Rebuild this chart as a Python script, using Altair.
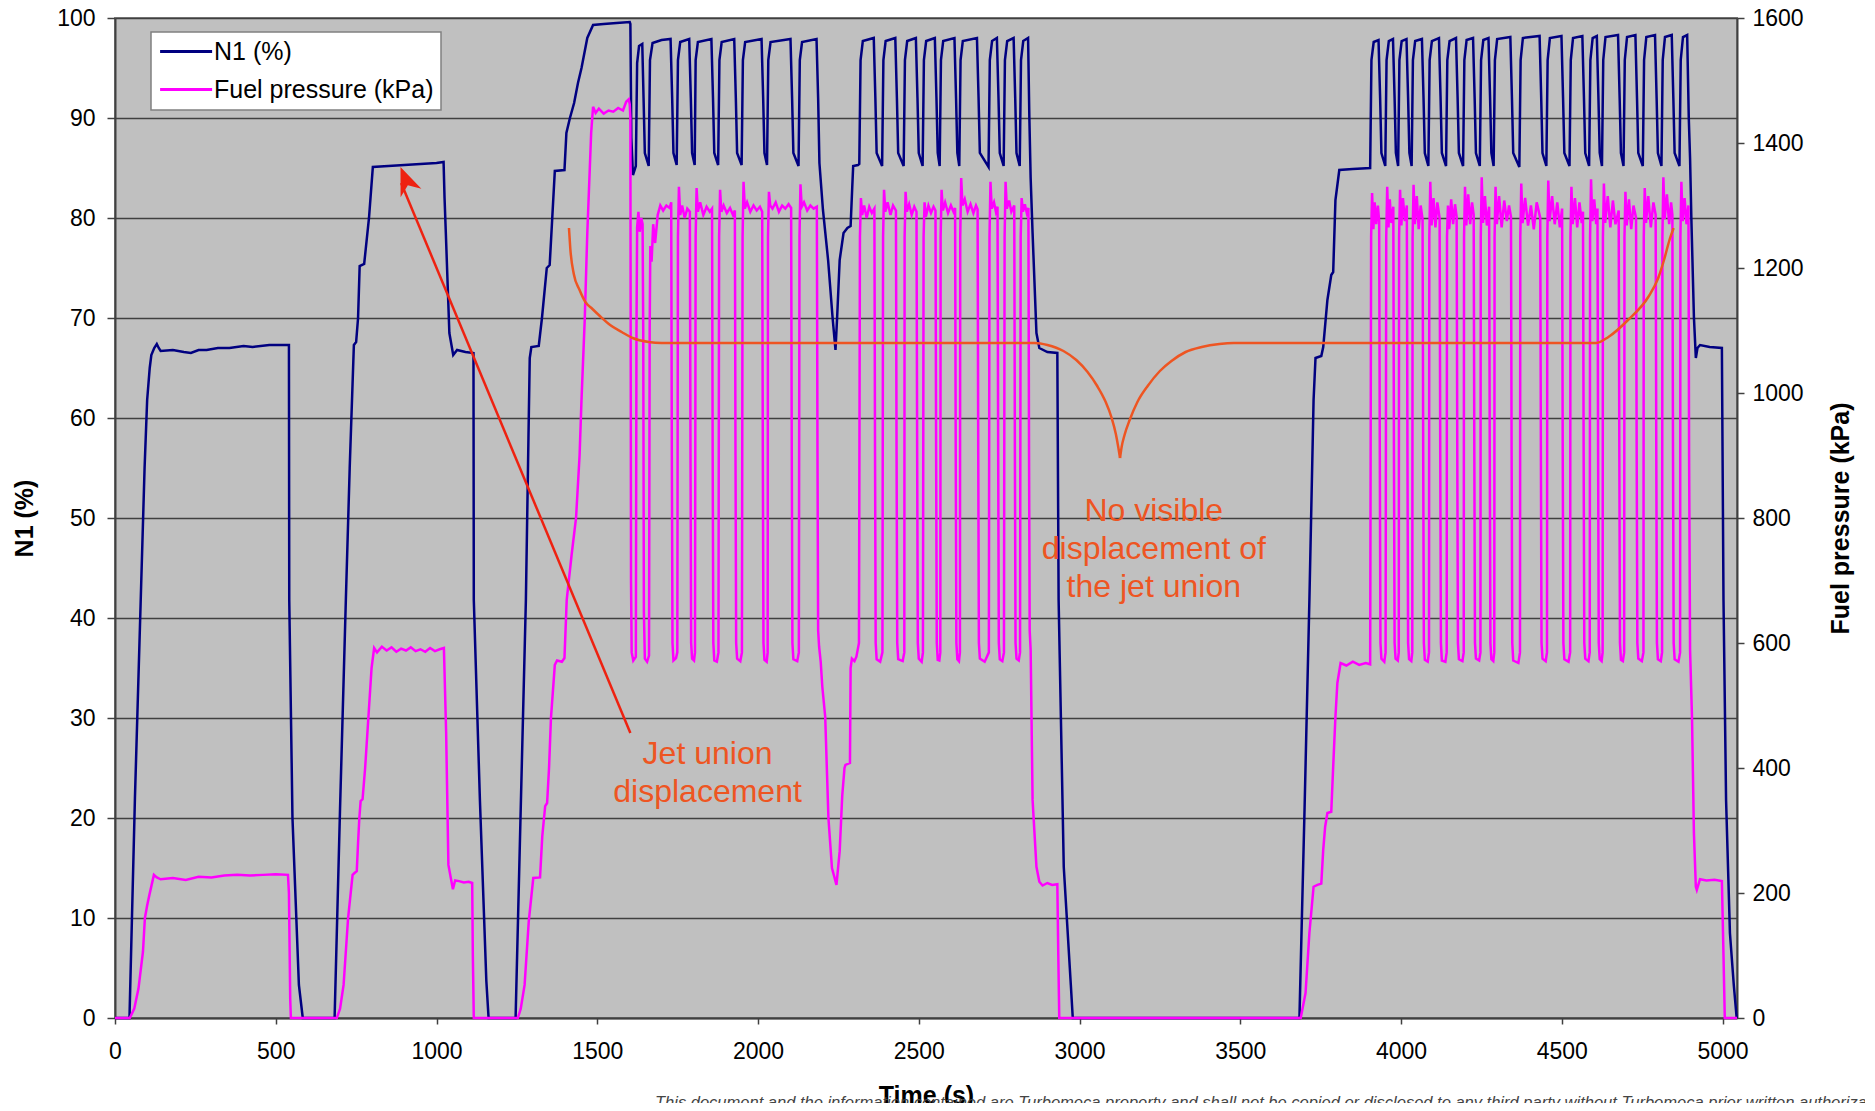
import altair as alt
import pandas as pd

FONT = "Liberation Sans"

# ---------------- N1 (%) series : (time s, N1 %) ----------------
n1_block1 = [(0, 0), (45, 0), (62, 22), (80, 41.8), (92, 55), (100, 61.8), (108, 65), (113, 66.3), (122, 67),
             (130, 67.4), (136, 67), (142, 66.7), (180, 66.8), (214, 66.6), (236, 66.5), (260, 66.8), (285, 66.8),
             (320, 67.0), (356, 67.0), (400, 67.2), (428, 67.1), (480, 67.3), (520, 67.3), (541, 67.3),
             (542, 41.8), (552, 20), (572, 3.3), (584, 0)]
n1_block2 = [(683, 0), (700, 21), (718, 41.8), (730, 55), (743, 67.3), (750, 67.6), (756, 70), (761, 75.2),
             (775, 75.4), (790, 80), (802, 85.1), (850, 85.2), (900, 85.3), (950, 85.4), (1000, 85.5),
             (1022, 85.6), (1025, 82), (1029, 78.5), (1040, 68.5), (1052, 66.3), (1064, 66.8), (1090, 66.6),
             (1115, 66.5), (1116, 41.8), (1135, 21.8), (1155, 3.7), (1162, 0)]
n1_block3 = [(1246, 0), (1262, 21), (1278, 41.8), (1286, 58), (1290, 66), (1295, 67.1), (1318, 67.2), (1328, 70),
             (1343, 75), (1352, 75.3), (1360, 80), (1368, 84.7), (1398, 84.8), (1404, 88.5), (1415, 90),
             (1428, 91.5), (1440, 93.5), (1451, 95), (1469, 98), (1487, 99.3), (1520, 99.4), (1560, 99.5),
             (1601, 99.6)]
n1_cycles1 = [(1603, 99.4), (1606, 88), (1611, 84.3), (1620, 85.2), (1624, 95.5), (1630, 97.2), (1640, 97.4),
              (1644, 92), (1648, 86.5), (1660, 85.2), (1664, 95.8), (1672, 97.5), (1700, 97.8), (1728, 97.9),
              (1733, 92), (1737, 86.5), (1747, 85.3), (1751, 95.8), (1758, 97.6), (1786, 97.9), (1791, 92),
              (1795, 86.5), (1803, 85.3), (1806, 95.8), (1813, 97.6), (1855, 97.9), (1860, 92), (1864, 86.5),
              (1876, 85.3), (1880, 95.8), (1887, 97.6), (1926, 97.9), (1931, 92), (1935, 86.5), (1949, 85.3),
              (1953, 95.8), (1960, 97.6), (2011, 97.9), (2016, 92), (2020, 86.5), (2028, 85.3), (2032, 95.8),
              (2039, 97.6), (2101, 97.9), (2106, 92), (2110, 86.5), (2126, 85.2), (2130, 95.8), (2137, 97.6),
              (2182, 97.9), (2187, 92), (2191, 85.5), (2202, 80.8), (2218, 75.8), (2232, 70), (2241, 66.8),
              (2246, 70), (2254, 75.8), (2266, 78.5), (2278, 79), (2288, 79.2), (2293, 83), (2296, 85.2),
              (2311, 85.3)]
n1_cycles2 = [(2315, 85.4), (2319, 95.8), (2326, 97.7), (2360, 98.0), (2365, 92), (2369, 86.5), (2386, 85.2),
              (2390, 95.8), (2397, 97.7), (2427, 98.0), (2432, 92), (2436, 86.5), (2453, 85.2), (2457, 95.8),
              (2464, 97.7), (2491, 98.0), (2496, 92), (2500, 86.5), (2512, 85.2), (2516, 95.8), (2523, 97.7),
              (2550, 98.0), (2555, 92), (2559, 86.5), (2565, 85.2), (2569, 95.8), (2576, 97.7), (2611, 98.0),
              (2616, 92), (2620, 86.5), (2626, 85.2), (2630, 95.8), (2637, 97.7), (2681, 98.0), (2686, 92),
              (2690, 86.5), (2717, 85.1), (2721, 95.8), (2728, 97.7), (2743, 98.0), (2748, 92), (2752, 86.5),
              (2764, 85.2), (2768, 95.8), (2775, 97.7), (2795, 98.0), (2800, 92), (2804, 86.5), (2814, 85.2),
              (2818, 95.8), (2825, 97.7), (2840, 98.0), (2844, 90), (2848, 84), (2854, 78.5), (2866, 68.5),
              (2875, 67), (2900, 66.6), (2931, 66.5), (2935, 41.8), (2951, 15.1), (2973, 3.3), (2979, 0)]
n1_block4 = [(3684, 0), (3700, 21), (3715, 41.8), (3728, 61.8), (3734, 66), (3752, 66.2), (3758, 67.1),
             (3771, 71.8), (3783, 74.3), (3789, 74.6), (3796, 81.8), (3808, 84.8), (3850, 84.9), (3904, 85)]
n1_cycles3 = [(3908, 95.8), (3915, 97.6), (3930, 97.8), (3935, 92), (3939, 86.5), (3951, 85.2), (3955, 95.8),
              (3962, 97.7), (3975, 97.9), (3980, 92), (3984, 86.5), (3991, 85.2), (3995, 95.8), (4002, 97.7),
              (4017, 97.9), (4022, 92), (4026, 86.5), (4033, 85.2), (4037, 95.8), (4044, 97.7), (4065, 97.9),
              (4070, 92), (4074, 86.5), (4085, 85.2), (4089, 95.8), (4096, 97.7), (4118, 98.0), (4123, 92),
              (4127, 86.5), (4140, 85.2), (4144, 95.8), (4151, 97.7), (4171, 98.0), (4176, 92), (4180, 86.5),
              (4193, 85.2), (4197, 95.8), (4204, 97.8), (4224, 98.0), (4229, 92), (4233, 86.5), (4245, 85.2),
              (4249, 95.8), (4256, 97.8), (4272, 98.0), (4277, 92), (4281, 86.5), (4288, 85.2), (4292, 95.8),
              (4299, 97.9), (4340, 98.1), (4345, 92), (4349, 86.5), (4368, 85.1), (4372, 95.8), (4379, 98.0),
              (4431, 98.2), (4436, 92), (4440, 86.5), (4452, 85.2), (4456, 95.8), (4463, 98.0), (4499, 98.2),
              (4504, 92), (4508, 86.5), (4524, 85.2), (4528, 95.8), (4535, 98.0), (4564, 98.2), (4569, 92),
              (4573, 86.5), (4585, 85.2), (4589, 95.8), (4596, 98.0), (4609, 98.2), (4614, 92), (4618, 86.5),
              (4625, 85.2), (4629, 95.8), (4636, 98.1), (4675, 98.3), (4680, 92), (4684, 86.5), (4692, 85.2),
              (4696, 95.8), (4703, 98.1), (4729, 98.3), (4734, 92), (4738, 86.5), (4752, 85.2), (4756, 95.8),
              (4763, 98.1), (4790, 98.3), (4795, 92), (4799, 86.5), (4810, 85.2), (4814, 95.8), (4821, 98.1),
              (4842, 98.3), (4847, 92), (4851, 86.5), (4866, 85.2), (4870, 95.8), (4877, 98.1), (4890, 98.3),
              (4895, 90), (4899, 86), (4903, 80), (4911, 70.1), (4917, 66), (4922, 67), (4930, 67.3),
              (4960, 67.1), (4998, 67), (5003, 41.8), (5011, 21.8), (5023, 8.5), (5035, 3.3), (5044, 0)]

# ---------------- Fuel pressure (kPa) series : (time s, kPa) ----------------
fuel_block1 = [(0, 0), (46, 0), (60, 15), (73, 47), (87, 106), (93, 160), (100, 180), (107, 197), (121, 229),
               (130, 225), (142, 222), (180, 224), (220, 221), (260, 226), (300, 225), (340, 228), (380, 229),
               (420, 228), (460, 229), (500, 230), (538, 229), (541, 200), (545, 30), (547, 0)]
fuel_block2 = [(690, 0), (700, 15), (711, 53), (725, 160), (739, 229), (745, 232), (752, 235), (756, 280),
               (760, 320), (764, 347), (770, 350), (778, 400), (788, 480), (798, 560), (806, 592), (815, 585),
               (830, 594), (845, 588), (860, 593), (875, 586), (890, 591), (905, 588), (920, 593), (935, 587),
               (950, 590), (965, 586), (980, 592), (995, 587), (1010, 590), (1023, 592), (1030, 456),
               (1037, 245), (1051, 206), (1058, 220), (1070, 219), (1085, 217), (1100, 218), (1111, 216),
               (1113, 100), (1116, 0)]
fuel_block3 = [(1253, 0), (1262, 15), (1274, 53), (1287, 155), (1301, 224), (1322, 225), (1329, 291),
               (1338, 339), (1344, 344), (1350, 400), (1356, 480), (1368, 565), (1375, 572), (1390, 570),
               (1398, 576), (1405, 669), (1420, 740), (1434, 800), (1445, 900), (1451, 989), (1461, 1117),
               (1469, 1256), (1481, 1416), (1487, 1458), (1495, 1448), (1505, 1455), (1520, 1447), (1535, 1452),
               (1550, 1450), (1565, 1456), (1580, 1452), (1590, 1466), (1598, 1470), (1601, 1462)]
fuel_cycles1 = [(1603, 1440), (1605, 700), (1607, 585), (1612, 572), (1620, 578), (1622, 1100), (1624, 1265),
                (1628, 1290), (1632, 1258), (1637, 1280), (1641, 1270), (1643, 1100), (1645, 650), (1648, 575),
                (1655, 570), (1661, 580), (1663, 1100), (1665, 1235), (1669, 1210), (1674, 1270), (1680, 1240),
                (1688, 1285), (1696, 1300), (1705, 1292), (1715, 1300), (1725, 1296), (1730, 1305), (1732, 900),
                (1734, 600), (1737, 572), (1745, 576), (1749, 585), (1751, 1250), (1754, 1330), (1758, 1285),
                (1764, 1300), (1772, 1280), (1780, 1295), (1788, 1290), (1790, 900), (1792, 600), (1795, 575),
                (1801, 572), (1804, 585), (1806, 1250), (1809, 1328), (1813, 1290), (1820, 1305), (1830, 1285),
                (1840, 1298), (1850, 1290), (1857, 1295), (1859, 900), (1861, 600), (1864, 572), (1872, 570),
                (1877, 585), (1879, 1250), (1882, 1325), (1886, 1290), (1893, 1300), (1903, 1288), (1913, 1296),
                (1922, 1285), (1928, 1292), (1930, 900), (1932, 600), (1935, 575), (1945, 571), (1950, 585),
                (1952, 1250), (1955, 1338), (1959, 1295), (1966, 1305), (1976, 1290), (1986, 1300), (1996, 1292),
                (2006, 1298), (2013, 1290), (2015, 900), (2017, 600), (2020, 573), (2027, 570), (2030, 585),
                (2031, 1250), (2034, 1322), (2038, 1300), (2045, 1295), (2055, 1305), (2065, 1290), (2075, 1300),
                (2085, 1295), (2095, 1302), (2103, 1296), (2105, 900), (2107, 600), (2110, 574), (2122, 571),
                (2127, 585), (2129, 1250), (2132, 1334), (2136, 1298), (2143, 1305), (2153, 1292), (2163, 1300),
                (2173, 1295), (2183, 1298), (2185, 900), (2187, 620), (2190, 594), (2195, 570), (2200, 530),
                (2209, 482), (2219, 320), (2230, 240), (2244, 213), (2254, 267), (2262, 356), (2269, 400),
                (2272, 405), (2286, 408), (2288, 560), (2292, 575), (2300, 571), (2306, 578), (2314, 600)]
fuel_cycles2 = [(2317, 1250), (2320, 1312), (2324, 1285), (2330, 1300), (2338, 1280), (2346, 1298), (2354, 1288),
                (2362, 1295), (2364, 900), (2366, 600), (2369, 574), (2380, 570), (2387, 585), (2389, 1250),
                (2392, 1325), (2396, 1290), (2403, 1305), (2412, 1285), (2420, 1300), (2429, 1292), (2431, 900),
                (2433, 600), (2436, 574), (2450, 571), (2455, 585), (2456, 1250), (2459, 1322), (2463, 1290),
                (2470, 1302), (2478, 1285), (2486, 1298), (2493, 1290), (2495, 900), (2497, 600), (2500, 575),
                (2509, 570), (2513, 585), (2515, 1250), (2518, 1305), (2522, 1282), (2530, 1300), (2538, 1288),
                (2546, 1298), (2552, 1292), (2554, 900), (2556, 600), (2559, 573), (2564, 572), (2567, 585),
                (2568, 1250), (2571, 1325), (2575, 1292), (2582, 1305), (2591, 1288), (2600, 1300), (2608, 1290),
                (2613, 1296), (2615, 900), (2617, 600), (2620, 574), (2625, 571), (2628, 585), (2629, 1250),
                (2632, 1344), (2636, 1300), (2643, 1310), (2652, 1290), (2661, 1302), (2670, 1288), (2678, 1300),
                (2683, 1294), (2685, 900), (2687, 600), (2690, 575), (2705, 570), (2712, 578), (2718, 585),
                (2720, 1250), (2723, 1338), (2727, 1295), (2734, 1305), (2740, 1290), (2745, 1298), (2747, 900),
                (2749, 600), (2752, 574), (2760, 571), (2765, 585), (2767, 1250), (2770, 1338), (2774, 1295),
                (2781, 1308), (2788, 1290), (2797, 1300), (2799, 900), (2801, 600), (2804, 575), (2811, 572),
                (2815, 585), (2817, 1250), (2820, 1312), (2824, 1290), (2830, 1302), (2836, 1288), (2841, 1296),
                (2843, 900), (2845, 620), (2848, 589), (2854, 349), (2866, 242), (2875, 218), (2885, 212),
                (2900, 216), (2915, 213), (2931, 214), (2934, 100), (2937, 0)]
fuel_block4 = [(3688, 0), (3703, 40), (3715, 136), (3728, 210), (3740, 213), (3752, 215), (3758, 269),
               (3764, 306), (3771, 328), (3783, 330), (3789, 402), (3796, 482), (3802, 536), (3812, 568),
               (3830, 564), (3850, 570), (3870, 565), (3890, 568), (3904, 566)]
fuel_cycles3 = [(3907, 1250), (3910, 1320), (3914, 1262), (3918, 1305), (3923, 1270), (3928, 1300), (3932, 1275),
                (3934, 900), (3936, 600), (3939, 575), (3948, 570), (3952, 585), (3954, 1250), (3957, 1330),
                (3961, 1265), (3965, 1310), (3970, 1272), (3976, 1298), (3978, 900), (3980, 600), (3983, 575),
                (3990, 572), (3993, 585), (3994, 1250), (3997, 1325), (4001, 1268), (4006, 1312), (4012, 1275),
                (4018, 1300), (4020, 900), (4022, 600), (4025, 574), (4032, 571), (4035, 585), (4036, 1250),
                (4039, 1333), (4043, 1270), (4049, 1315), (4055, 1262), (4061, 1300), (4067, 1278), (4069, 900),
                (4071, 600), (4074, 573), (4083, 570), (4087, 585), (4088, 1250), (4091, 1338), (4095, 1268),
                (4101, 1312), (4107, 1265), (4113, 1305), (4120, 1280), (4122, 900), (4124, 600), (4127, 572),
                (4138, 570), (4142, 585), (4143, 1250), (4146, 1300), (4150, 1262), (4156, 1310), (4162, 1270),
                (4168, 1302), (4173, 1282), (4175, 900), (4177, 600), (4180, 574), (4191, 571), (4195, 585),
                (4196, 1250), (4199, 1330), (4203, 1268), (4209, 1318), (4215, 1270), (4221, 1305), (4226, 1285),
                (4228, 900), (4230, 600), (4233, 575), (4243, 572), (4247, 585), (4248, 1250), (4251, 1345),
                (4255, 1272), (4261, 1315), (4267, 1268), (4274, 1298), (4276, 900), (4278, 600), (4281, 574),
                (4287, 571), (4290, 585), (4291, 1250), (4294, 1330), (4298, 1270), (4305, 1315), (4313, 1265),
                (4321, 1308), (4329, 1275), (4336, 1300), (4342, 1282), (4344, 900), (4346, 600), (4349, 572),
                (4365, 568), (4370, 585), (4371, 1250), (4374, 1335), (4378, 1272), (4386, 1312), (4395, 1268),
                (4404, 1300), (4413, 1262), (4422, 1305), (4433, 1280), (4435, 900), (4437, 600), (4440, 575),
                (4450, 571), (4454, 585), (4455, 1250), (4458, 1340), (4462, 1275), (4470, 1315), (4478, 1270),
                (4486, 1305), (4494, 1265), (4501, 1295), (4503, 900), (4505, 600), (4508, 574), (4521, 570),
                (4526, 585), (4527, 1250), (4530, 1330), (4534, 1270), (4541, 1312), (4548, 1265), (4555, 1305),
                (4562, 1272), (4566, 1290), (4568, 900), (4570, 600), (4573, 575), (4583, 571), (4587, 585),
                (4588, 1250), (4591, 1342), (4595, 1275), (4601, 1310), (4607, 1270), (4611, 1295), (4613, 900),
                (4615, 600), (4618, 574), (4624, 571), (4627, 585), (4628, 1250), (4631, 1335), (4635, 1272),
                (4643, 1315), (4651, 1265), (4659, 1308), (4667, 1270), (4677, 1292), (4679, 900), (4681, 600),
                (4684, 573), (4690, 571), (4694, 585), (4695, 1250), (4698, 1322), (4702, 1268), (4709, 1310),
                (4716, 1262), (4723, 1300), (4731, 1280), (4733, 900), (4735, 600), (4738, 575), (4749, 571),
                (4754, 585), (4755, 1250), (4758, 1328), (4762, 1272), (4769, 1315), (4777, 1265), (4785, 1305),
                (4792, 1285), (4794, 900), (4796, 600), (4799, 574), (4808, 571), (4812, 585), (4813, 1250),
                (4816, 1345), (4820, 1278), (4827, 1318), (4834, 1270), (4840, 1305), (4844, 1285), (4846, 900),
                (4848, 600), (4851, 574), (4863, 570), (4868, 585), (4869, 1250), (4872, 1338), (4876, 1275),
                (4882, 1312), (4888, 1270), (4894, 1300), (4896, 900), (4899, 589), (4905, 482), (4911, 296),
                (4917, 210), (4920, 205), (4930, 222), (4950, 220), (4975, 221), (4998, 219), (5003, 100),
                (5007, 0), (5045, 0)]

# ---------------- annotations (in N1 units) ----------------
brace_left = [(1412, 79.0), (1416, 77.0), (1427, 74.4), (1445, 72.8), (1463, 71.6), (1485, 70.9), (1508, 70.2),
              (1540, 69.3), (1576, 68.6), (1610, 68.0), (1660, 67.6), (1700, 67.5), (2861, 67.5), (2900, 67.3),
              (2950, 66.7), (2990, 65.8), (3025, 64.6), (3055, 63.2), (3080, 61.7), (3100, 60.0), (3113, 58.4),
              (3121, 57.0), (3126, 56.0)]
brace_right = [(3126, 56.0), (3131, 57.1), (3140, 58.3), (3156, 59.8), (3180, 61.6), (3212, 63.2), (3250, 64.7),
               (3286, 65.7), (3330, 66.6), (3380, 67.1), (3435, 67.4), (3480, 67.5), (4607, 67.5), (4645, 68.1),
               (4706, 69.8), (4769, 72.1), (4800, 74.0), (4818, 75.8), (4835, 77.8), (4848, 79.0)]
arrow_line = [(1603, 28.5), (890, 83.5)]
arrow_tip = (888, 85.1)
arrow_angle = 338

label_jet = [("Jet union", 1843, 26.4), ("displacement", 1843, 22.6)]
label_none = [("No visible", 3231, 50.7), ("displacement of", 3231, 46.9), ("the jet union", 3231, 43.1)]
footer = ("This document and the information contained are Turbomeca property and shall not be copied "
          "or disclosed to any third party without Turbomeca prior written authorization")

x_ticks = list(range(0, 5001, 500))
n1_ticks = list(range(0, 101, 10))
fuel_ticks = list(range(0, 1601, 200))
series_names = ["N1 (%)", "Fuel pressure (kPa)"]
series_colors = ["#000080", "#FF00FF"]
ORANGE = "#EE5522"
RED = "#EE2211"


def frame(segments, series):
    rows = []
    for seg in segments:
        for t, v in seg:
            rows.append({"t": t, "v": v, "series": series, "i": len(rows)})
    return pd.DataFrame(rows)


n1_df = frame([n1_block1, n1_block2, n1_block3, n1_cycles1, n1_cycles2, n1_block4, n1_cycles3], series_names[0])
fuel_df = frame([fuel_block1, fuel_block2, fuel_block3, fuel_cycles1, fuel_cycles2, fuel_block4, fuel_cycles3],
                series_names[1])

brace_df = pd.DataFrame(
    [{"t": t, "v": v, "part": "a", "i": k} for k, (t, v) in enumerate(brace_left)]
    + [{"t": t, "v": v, "part": "b", "i": k} for k, (t, v) in enumerate(brace_right)]
)
arrow_df = pd.DataFrame([{"t": t, "v": v, "i": k} for k, (t, v) in enumerate(arrow_line)])
tip_df = pd.DataFrame([{"t": arrow_tip[0], "v": arrow_tip[1]}])
text_df = pd.DataFrame([{"txt": s, "t": t, "v": v} for s, t, v in label_jet + label_none])

xscale = alt.Scale(domain=[0, 5045], nice=False, zero=False)
n1_scale = alt.Scale(domain=[0, 100], nice=False)
fuel_scale = alt.Scale(domain=[0, 1600], nice=False)
color = alt.Color(
    "series:N",
    scale=alt.Scale(domain=series_names, range=series_colors),
    legend=alt.Legend(title=None, orient="none", legendX=36, legendY=14),
)

x_axis = alt.Axis(values=x_ticks, format="d", title="Time (s)", grid=False, tickSize=6,
                  labelPadding=16, titlePadding=20)

n1_line = alt.Chart(n1_df).mark_line(strokeWidth=2.5).encode(
    x=alt.X("t:Q", scale=xscale, axis=x_axis),
    y=alt.Y("v:Q", scale=n1_scale,
            axis=alt.Axis(values=n1_ticks, format="d", title="N1 (%)", grid=True, tickSize=8, labelPadding=12,
                          titlePadding=19, orient="left")),
    color=color,
    order="i:Q",
)

fuel_line = alt.Chart(fuel_df).mark_line(strokeWidth=2.5).encode(
    x=alt.X("t:Q", scale=xscale),
    y=alt.Y("v:Q", scale=fuel_scale,
            axis=alt.Axis(values=fuel_ticks, format="d", title="Fuel pressure (kPa)", grid=False, tickSize=7,
                          labelPadding=8, titlePadding=25, orient="right", titleAngle=270,
                          titleBaseline="top")),
    color=color,
    order="i:Q",
)

brace = alt.Chart(brace_df).mark_line(color=ORANGE, strokeWidth=2.5, interpolate="monotone").encode(
    x=alt.X("t:Q", scale=xscale),
    y=alt.Y("v:Q", scale=n1_scale, axis=None),
    detail="part:N",
    order="i:Q",
)

arrow = alt.Chart(arrow_df).mark_line(color=RED, strokeWidth=2.5).encode(
    x=alt.X("t:Q", scale=xscale),
    y=alt.Y("v:Q", scale=n1_scale, axis=None),
    order="i:Q",
)

tip = alt.Chart(tip_df).mark_point(
    shape="M0,0 L0.8,2 L0,1.4 L-0.8,2 Z", filled=True, color=RED, size=784, opacity=1,
    angle=arrow_angle, strokeWidth=0,
).encode(
    x=alt.X("t:Q", scale=xscale),
    y=alt.Y("v:Q", scale=n1_scale, axis=None),
)

texts = alt.Chart(text_df).mark_text(
    font=FONT, fontSize=32, color=ORANGE, align="center", baseline="middle"
).encode(
    x=alt.X("t:Q", scale=xscale),
    y=alt.Y("v:Q", scale=n1_scale, axis=None),
    text="txt:N",
)

foot = alt.Chart(pd.DataFrame([{"txt": footer}])).mark_text(
    font=FONT, fontSize=16.5, fontStyle="italic", color="#444444", align="left", baseline="top"
).encode(
    x=alt.value(540),
    y=alt.value(1077),
    text="txt:N",
)

chart = alt.layer(n1_line, fuel_line, brace, arrow, tip, texts, foot).resolve_scale(
    y="independent"
).properties(
    width=1622,
    height=1000,
    autosize=alt.AutoSizeParams(type="none"),
    padding={"left": 107, "top": 10, "right": 128, "bottom": 85},
    background="white",
).configure_view(
    fill="#C0C0C0", stroke="#808080", strokeWidth=2
).configure_axis(
    labelFont=FONT, titleFont=FONT, labelFontSize=23, titleFontSize=25, titleFontWeight="bold",
    labelColor="black", titleColor="black", domainColor="#404040", domainWidth=2,
    tickColor="#404040", tickWidth=1.5, gridColor="#404040", gridWidth=1.3, gridOpacity=1,
    labelFlush=False, labelOverlap=False,
).configure_legend(
    fillColor="white", strokeColor="#808080", strokeWidth=1.5, padding=7, cornerRadius=0,
    symbolType="M-1,0H4", symbolSize=433, symbolStrokeWidth=3, labelFont=FONT, labelFontSize=25,
    labelColor="black", rowPadding=12, labelOffset=31, labelLimit=0,
)

chart.save("out.html", embed_options={"renderer": "svg", "actions": False})
